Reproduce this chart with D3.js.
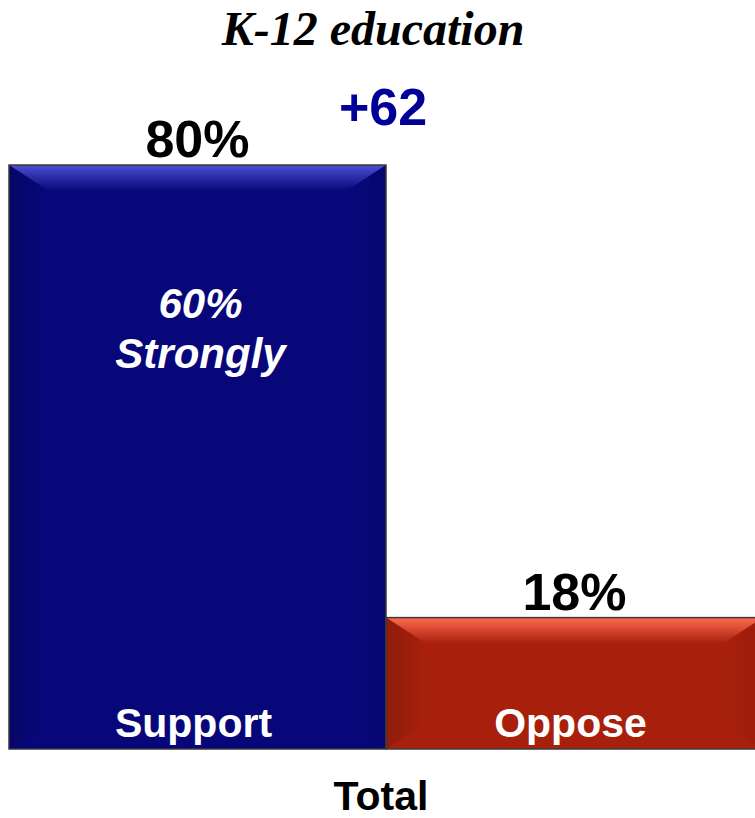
<!DOCTYPE html>
<html><head><meta charset="utf-8">
<script src="https://cdn.jsdelivr.net/npm/d3@7"></script>
<style>html,body{margin:0;padding:0;background:#fff;}svg{display:block;}</style>
</head><body>
<svg id="chart" width="755" height="818"></svg>
<script>
const categories = ["Support", "Oppose"];
const values = [80, 18];
const valueLabels = ["80%", "18%"];
const strongLabel = ["60%", "Strongly"];
const netLabel = "+62";
const groupLabel = "Total";
const titleText = "K-12 education";
const barColors = ["#07077a", "#a8200c"];
const bevelLight = ["#4a4fd0", "#ff6a50"];

const svg = d3.select("#chart");
const x = d3.scaleBand().domain(categories).range([9, 763]).padding(0);
const y = d3.scaleLinear().domain([0, 100]).range([749, 19]);
const SANS = "Liberation Sans, Arial, sans-serif";

const defs = svg.append("defs");
categories.forEach((c, i) => {
  const g = defs.append("linearGradient").attr("id", "top" + i).attr("x1", 0).attr("y1", 0).attr("x2", 0).attr("y2", 1);
  g.append("stop").attr("offset", "0%").attr("stop-color", bevelLight[i]);
  g.append("stop").attr("offset", "100%").attr("stop-color", barColors[i]);
  const l = defs.append("linearGradient").attr("id", "left" + i).attr("x1", 0).attr("y1", 0).attr("x2", 1).attr("y2", 0);
  l.append("stop").attr("offset", "0%").attr("stop-color", "#000").attr("stop-opacity", 0.15);
  l.append("stop").attr("offset", "100%").attr("stop-color", "#000").attr("stop-opacity", 0);
  const r = defs.append("linearGradient").attr("id", "right" + i).attr("x1", 1).attr("y1", 0).attr("x2", 0).attr("y2", 0);
  r.append("stop").attr("offset", "0%").attr("stop-color", "#000").attr("stop-opacity", 0.08);
  r.append("stop").attr("offset", "100%").attr("stop-color", "#000").attr("stop-opacity", 0);
});

const bars = svg.selectAll("g.bar").data(categories).enter().append("g").attr("class", "bar");
bars.each(function(c, i) {
  const g = d3.select(this);
  const x0 = x(c), w = x.bandwidth(), y0 = y(values[i]), h = y(0) - y(values[i]);
  const bw = Math.min(40, w * 0.12), bt = Math.min(26, h * 0.2);
  g.append("rect").attr("x", x0).attr("y", y0).attr("width", w).attr("height", h).attr("fill", barColors[i]);
  g.append("path").attr("d", `M${x0},${y0}L${x0 + w},${y0}L${x0 + w - bw},${y0 + bt}L${x0 + bw},${y0 + bt}Z`).attr("fill", `url(#top${i})`);
  g.append("path").attr("d", `M${x0},${y0}L${x0 + bw},${y0 + bt}L${x0 + bw},${y0 + h - bt}L${x0},${y0 + h}Z`).attr("fill", `url(#left${i})`);
  g.append("path").attr("d", `M${x0 + w},${y0}L${x0 + w - bw},${y0 + bt}L${x0 + w - bw},${y0 + h - bt}L${x0 + w},${y0 + h}Z`).attr("fill", `url(#right${i})`);
  g.append("rect").attr("x", x0).attr("y", y0).attr("width", w).attr("height", h).attr("fill", "none").attr("stroke", "#3a3a3a").attr("stroke-width", 1.5);
  svg.append("text").attr("x", x0 + w / 2).attr("y", y0 - 8).attr("text-anchor", "middle")
    .style("font-family", SANS).style("font-weight", "bold").style("font-size", "52px").attr("fill", "#000")
    .text(valueLabels[i]);
  svg.append("text").attr("x", x0 + w / 2 - 4).attr("y", y(0) - 12).attr("text-anchor", "middle")
    .style("font-family", SANS).style("font-weight", "bold").style("font-size", "41px").attr("fill", "#fff")
    .text(c);
});

const sx = x("Support") + x.bandwidth() / 2 + 3;
strongLabel.forEach((t, k) => {
  svg.append("text").attr("x", sx).attr("y", 318 + k * 50).attr("text-anchor", "middle")
    .style("font-family", SANS).style("font-weight", "bold").style("font-style", "italic").style("font-size", "42px").attr("fill", "#fff")
    .text(t);
});

svg.append("text").attr("x", 383).attr("y", 125).attr("text-anchor", "middle")
  .style("font-family", SANS).style("font-weight", "bold").style("font-size", "52px").attr("fill", "#000099")
  .text(netLabel);

svg.append("text").attr("x", 373).attr("y", 45).attr("text-anchor", "middle")
  .style("font-family", "Liberation Serif, Times New Roman, serif").style("font-weight", "bold").style("font-style", "italic").style("font-size", "48px").attr("fill", "#000")
  .text(titleText);

svg.append("text").attr("x", 381).attr("y", 810).attr("text-anchor", "middle")
  .style("font-family", SANS).style("font-weight", "bold").style("font-size", "41px").attr("fill", "#000")
  .text(groupLabel);
</script>
</body></html>
